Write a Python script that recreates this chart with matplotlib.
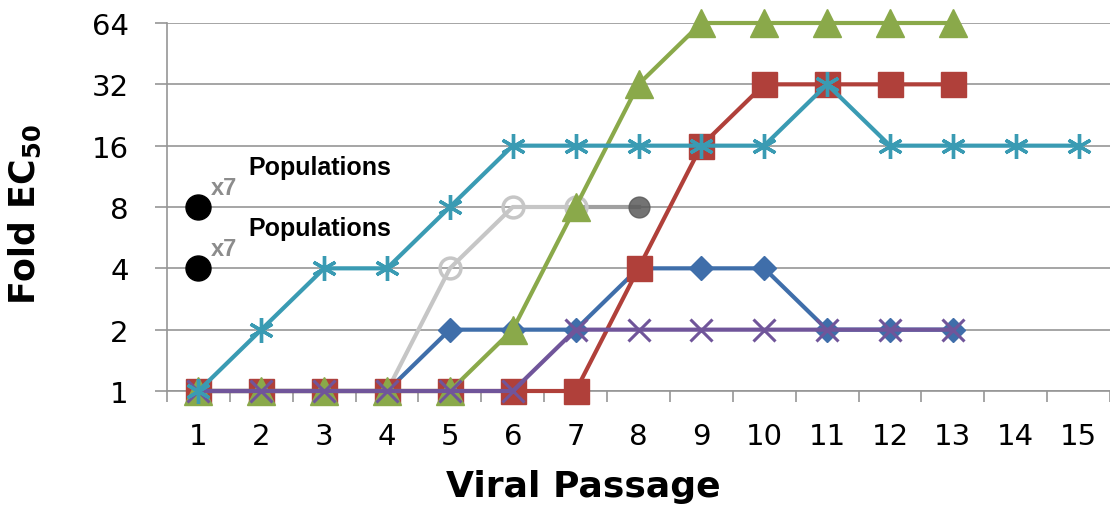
import matplotlib
matplotlib.use("Agg")
import matplotlib.pyplot as plt
import numpy as np

passage = list(range(1, 16))
x_labels = [str(p) for p in passage]
y_ticks = [1, 2, 4, 8, 16, 32, 64]

blue_x = list(range(1, 14))
blue_y = [1, 1, 1, 1, 2, 2, 2, 4, 4, 4, 2, 2, 2]
red_x = list(range(1, 14))
red_y = [1, 1, 1, 1, 1, 1, 1, 4, 16, 32, 32, 32, 32]
green_x = list(range(1, 14))
green_y = [1, 1, 1, 1, 1, 2, 8, 32, 64, 64, 64, 64, 64]
purple_x = list(range(1, 14))
purple_y = [1, 1, 1, 1, 1, 1, 2, 2, 2, 2, 2, 2, 2]
cyan_x = list(range(1, 16))
cyan_y = [1, 2, 4, 4, 8, 16, 16, 16, 16, 16, 32, 16, 16, 16, 16]
gray_x = [1, 2, 3, 4, 5, 6, 7, 8]
gray_y = [1, 1, 1, 1, 4, 8, 8, 8]
pop_x = [1, 1]
pop_y = [8, 4]
pop_mult = ["x7", "x7"]
pop_text = ["Populations", "Populations"]

W, H = 1110, 506
fig = plt.figure(figsize=(W / 100, H / 100), dpi=100)
ax_left, ax_right, ax_top, ax_bot = 167, 1110, 24, 392
ax = fig.add_axes([ax_left / W, 1 - ax_bot / H, (ax_right - ax_left) / W, (ax_bot - ax_top) / H])
ax.set_yscale("log", base=2)
ax.set_ylim(1, 64)
ax.set_xlim(0.5, 15.5)

lw = 3.0
ax.plot(gray_x[:-1], gray_y[:-1], color="#C6C6C6", lw=lw, zorder=2)
ax.plot(gray_x[-2:], gray_y[-2:], color="#A0A0A0", lw=lw, zorder=2)
ax.plot(gray_x[4:-1], gray_y[4:-1], ls="none", marker="o", ms=15, mfc="none",
        mec="#C6C6C6", mew=2.5, zorder=2, clip_on=False)
ax.plot(gray_x[-1:], gray_y[-1:], ls="none", marker="o", ms=15, color="#5A5A5A",
        alpha=0.85, zorder=2, clip_on=False)

ax.plot(blue_x, blue_y, color="#3F6EAA", lw=lw, marker="D", ms=12, zorder=3, clip_on=False)
ax.plot(red_x, red_y, color="#B0403A", lw=lw, marker="s", ms=18, zorder=4, clip_on=False)
ax.plot(green_x, green_y, color="#8AA94A", lw=lw, marker="^", ms=20, zorder=5, clip_on=False)
ax.plot(purple_x, purple_y, color="#70559A", lw=lw, marker="x", ms=16, mew=2.2, zorder=6, clip_on=False)
ax.plot(cyan_x, cyan_y, color="#3A9BB3", lw=lw, marker=(6, 2, 0), ms=18, mew=2.4, zorder=7, clip_on=False)

ax.plot(pop_x, pop_y, ls="none", marker="o", ms=18, color="black", zorder=8, clip_on=False)
for xv, yv, m, t in zip(pop_x, pop_y, pop_mult, pop_text):
    ax.annotate(m, (xv, yv), xytext=(8.6, 9.4), textcoords="offset points",
                fontsize=17, fontweight="bold", color="#8C8C8C",
                family="Liberation Sans", ha="left", va="baseline")
    ax.annotate(t, (xv, yv), xytext=(36, 23.8), textcoords="offset points",
                fontsize=18, fontweight="bold", color="black",
                family="Liberation Sans", ha="left", va="baseline")

ax.set_yticks(y_ticks)
ax.set_yticklabels([str(v) for v in y_ticks])
ax.yaxis.set_minor_locator(matplotlib.ticker.NullLocator())
ax.set_xticks(passage)
ax.set_xticklabels(x_labels)
ax.set_xticks(np.arange(0.5, 16, 1.0), minor=True)
ax.tick_params(axis="x", which="major", length=0, pad=22, labelsize=21)
ax.tick_params(axis="x", which="minor", length=8, width=1.2, color="#969696", direction="out")
ax.tick_params(axis="y", which="major", length=8.6, width=1.2, color="#969696", pad=19, labelsize=21)
for lab in ax.get_xticklabels() + ax.get_yticklabels():
    lab.set_family("DejaVu Sans")

ax.grid(axis="y", which="major", color="#969696", lw=1.2, zorder=0)
ax.set_axisbelow(True)
for s in ["top", "right"]:
    ax.spines[s].set_visible(False)
for s in ["left", "bottom"]:
    ax.spines[s].set_color("#969696")
    ax.spines[s].set_linewidth(1.2)

fig.text(583 / W, 1 - 497 / H, "Viral Passage", fontsize=26, fontweight="bold",
         family="DejaVu Sans", ha="center", va="baseline")
fig.text(25 / W, 1 - 215 / H, r"Fold EC$_\mathbf{50}$", fontsize=25, fontweight="bold",
         family="DejaVu Sans", ha="center", va="center", rotation=90)

fig.savefig("out.png", dpi=100)
